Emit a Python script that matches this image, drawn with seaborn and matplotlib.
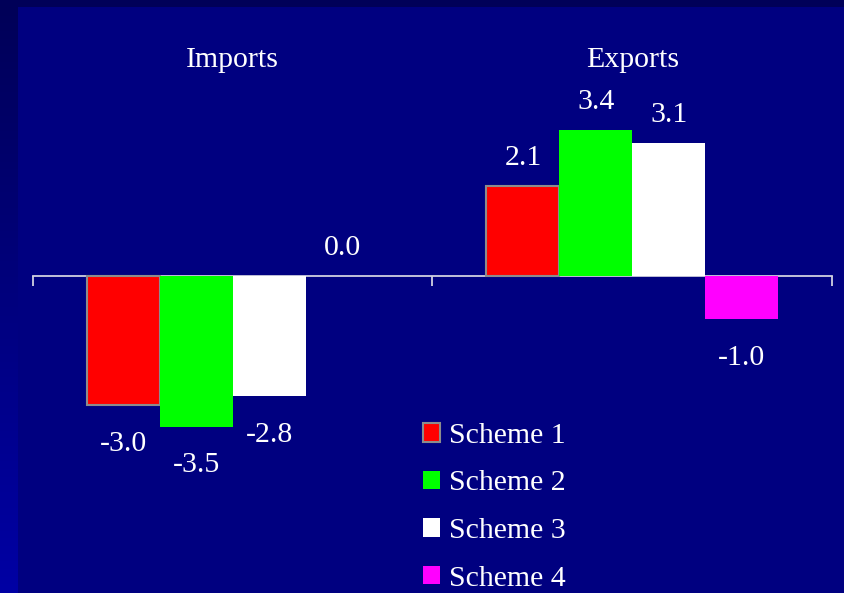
import matplotlib
matplotlib.use("Agg")
import matplotlib.pyplot as plt
import seaborn as sns
import numpy as np
import pandas as pd
from matplotlib.patches import Rectangle, Patch
from matplotlib.colors import LinearSegmentedColormap

# ---- data ----
categories = ["Imports", "Exports"]
schemes = ["Scheme 1", "Scheme 2", "Scheme 3", "Scheme 4"]
imports_vals = [-3.0, -3.5, -2.8, 0.0]
exports_vals = [2.1, 3.4, 3.1, -1.0]
colors = ["#FF0000", "#00FF00", "#FFFFFF", "#FF00FF"]

df = pd.DataFrame({
    "category": np.repeat(categories, len(schemes)),
    "scheme": schemes * len(categories),
    "value": imports_vals + exports_vals,
})

sns.set_style("white")
plt.rcParams["font.family"] = ["Liberation Serif", "DejaVu Serif"]
FS = 21.5

W, H = 845, 593
fig = plt.figure(figsize=(W / 100, H / 100), dpi=100)
fig.patch.set_facecolor("#000080")

# background decorations: dark top strip, gradient left strip
fig.patches.append(Rectangle((0, (H - 7) / H), 1, 7 / H, transform=fig.transFigure,
                             facecolor="#000058", edgecolor="none", zorder=-10))
grad = np.linspace(0, 1, 256).reshape(-1, 1)
bg_ax = fig.add_axes([0, 0, 18 / W, (H - 7) / H], zorder=-5)
cm = LinearSegmentedColormap.from_list("g", ["#0000A4", "#000058"])
bg_ax.imshow(grad, aspect="auto", cmap=cm, origin="lower")
bg_ax.axis("off")

# main axes: x from 33 to 832 px, y from 30 to 590 px (top-down)
ax_left, ax_right = 33, 832
ax_top, ax_bot = 30, 590
ax = fig.add_axes([ax_left / W, 1 - ax_bot / H, (ax_right - ax_left) / W, (ax_bot - ax_top) / H])
ax.set_facecolor("none")

sns.barplot(data=df, x="category", y="value", hue="scheme", order=categories,
            hue_order=schemes, palette=colors, width=0.73, gap=0, dodge=True,
            saturation=1, legend=False, ax=ax, zorder=3)

ppu = 43.0  # pixels per unit
ax.set_ylim(-(ax_bot - 276) / ppu, (276 - ax_top) / ppu)
ax.set_xlim(-0.5, 1.5)

# bar edges
for i, cont in enumerate(ax.containers):
    for bar in cont:
        if i == 0:
            bar.set_edgecolor("#8C8C8C")
            bar.set_linewidth(1.5)
        else:
            bar.set_edgecolor("none")

# value labels
for i, cont in enumerate(ax.containers):
    for bar in cont:
        v = bar.get_height()
        x = bar.get_x() + bar.get_width() / 2
        off = 20 if v >= 0 else -28
        ax.annotate(f"{v:.1f}", (x, v), xytext=(0, off), textcoords="offset points",
                    ha="center", va="center", color="white", fontsize=FS, zorder=5)

# axis styling
for s in ["left", "right", "top"]:
    ax.spines[s].set_visible(False)
ax.spines["bottom"].set_position(("data", 0))
ax.spines["bottom"].set_color("#D0D0E0")
ax.spines["bottom"].set_linewidth(1.3)
ax.spines["bottom"].set_zorder(2)
ax.set_xticks([-0.5, 0.5, 1.5])
ax.set_xticklabels([])
ax.tick_params(axis="x", bottom=True, direction="out", length=7.5, width=1.3, color="#D0D0E0")
ax.set_yticks([])
ax.set_xlabel("")
ax.set_ylabel("")
ax.grid(False)

# category labels on top
for i, c in enumerate(categories):
    ax.text(i, 1 - (60 - ax_top) / (ax_bot - ax_top), c, transform=ax.get_xaxis_transform(),
            ha="center", va="center", color="white", fontsize=FS)

# legend
handles = []
for i, (s, c) in enumerate(zip(schemes, colors)):
    handles.append(Patch(facecolor=c, edgecolor="#8C8C8C" if i == 0 else c,
                         linewidth=1.5 if i == 0 else 0, label=s))
leg = fig.legend(handles=handles, loc="upper left", bbox_to_anchor=(423 / W, 1 - 423 / H),
                 frameon=False, fontsize=FS, labelcolor="white", handlelength=0.57,
                 handleheight=0.57, handletextpad=0.3, labelspacing=0.72,
                 borderpad=0, borderaxespad=0)

fig.savefig("out.png", dpi=100, facecolor=fig.get_facecolor())
